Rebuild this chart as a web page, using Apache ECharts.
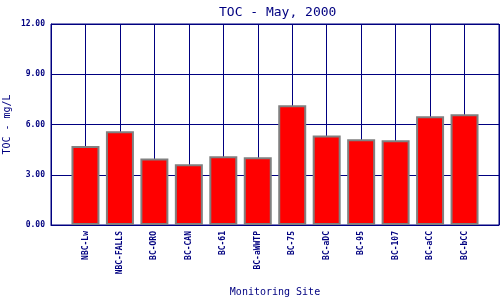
<!DOCTYPE html>
<html>
<head>
<meta charset="utf-8">
<script src="https://cdn.jsdelivr.net/npm/echarts@6/dist/echarts.min.js"></script>
<style>html,body{margin:0;padding:0;background:#fff;}#c{width:500px;height:300px;}</style>
</head>
<body>
<div id="c"></div>
<script>
const sites = ['NBC-Lw','NBC-FALLS','BC-ORO','BC-CAN','BC-61','BC-aWWTP','BC-75','BC-aDC','BC-95','BC-107','BC-aCC','BC-bCC'];
const tocValues = [4.72, 5.59, 3.97, 3.62, 4.10, 4.04, 7.15, 5.35, 5.12, 5.06, 6.49, 6.61];
const yTicks = [0, 3, 6, 9, 12];

const NAVY = '#000080';
const MONO = '"DejaVu Sans Mono", "Liberation Mono", monospace';

// pad with empty slots at both ends so the site positions sit on grid lines
const cats = [''].concat(sites, ['']);
const vals = [null].concat(tocValues, [null]);

const chart = echarts.init(document.getElementById('c'), null, {renderer: 'canvas'});
chart.setOption({
  animation: false,
  backgroundColor: '#ffffff',
  title: {
    text: 'TOC - May, 2000',
    left: 214,
    top: 1,
    textStyle: {color: NAVY, fontFamily: MONO, fontSize: 13, fontWeight: 'normal'}
  },
  grid: {left: 51, right: 1, top: 24, bottom: 75, containLabel: false,
         outerBoundsMode: 'none',
         show: true, borderColor: NAVY, borderWidth: 1},
  xAxis: {
    type: 'category',
    data: cats,
    boundaryGap: false,
    name: 'Monitoring Site',
    nameLocation: 'middle',
    nameGap: 62,
    nameMoveOverlap: false,
    nameTextStyle: {color: NAVY, fontFamily: MONO, fontSize: 10},
    axisLine: {show: true, lineStyle: {color: NAVY, width: 1}},
    axisTick: {show: false},
    axisLabel: {interval: 0, rotate: 90, margin: 6, color: NAVY,
                fontFamily: MONO, fontSize: 8, fontWeight: 'bold'},
    splitLine: {show: true, interval: 0, lineStyle: {color: NAVY, width: 1}}
  },
  yAxis: {
    type: 'value',
    min: yTicks[0],
    max: yTicks[yTicks.length - 1],
    interval: 3,
    name: 'TOC - mg/L',
    nameLocation: 'middle',
    nameGap: 39,
    nameMoveOverlap: false,
    nameTextStyle: {color: NAVY, fontFamily: MONO, fontSize: 10},
    axisLine: {show: true, lineStyle: {color: NAVY, width: 1}},
    axisTick: {show: false},
    axisLabel: {margin: 6, color: NAVY, fontFamily: MONO, fontSize: 8, fontWeight: 'bold',
                formatter: v => v.toFixed(2)},
    splitLine: {show: true, lineStyle: {color: NAVY, width: 1}}
  },
  series: [{
    type: 'bar',
    data: vals,
    barWidth: 28,
    itemStyle: {color: '#ff0000', borderColor: '#808080', borderWidth: 2}
  }]
});
</script>
</body>
</html>
